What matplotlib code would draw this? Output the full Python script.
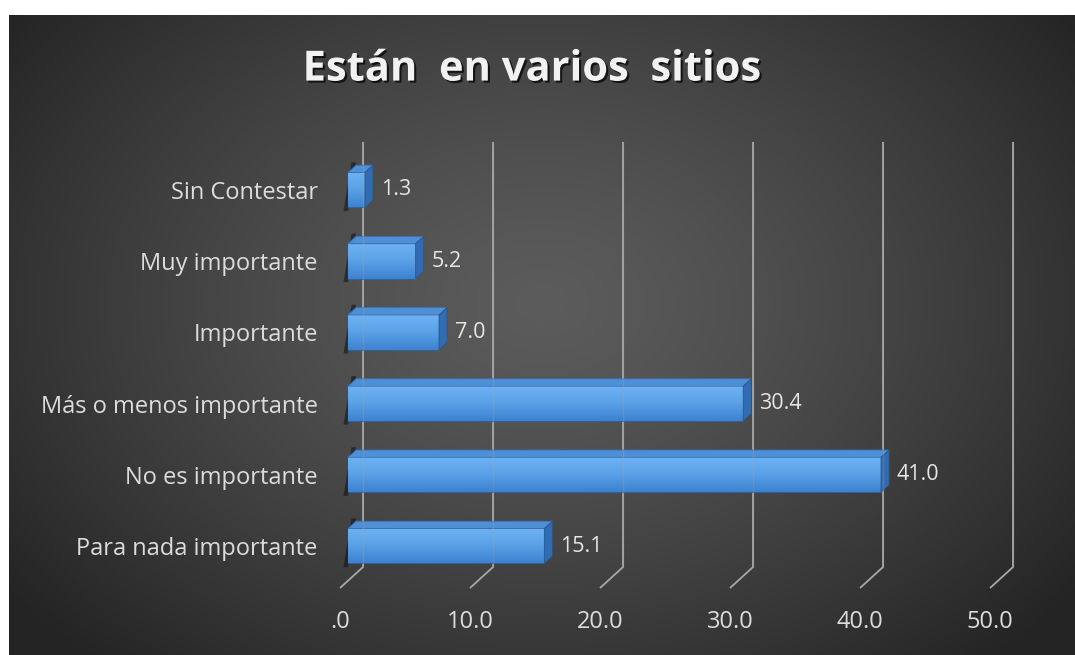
import numpy as np
import matplotlib
matplotlib.use("Agg")
import matplotlib.pyplot as plt
from matplotlib.patches import Polygon
import matplotlib.patheffects as pe

categories = ["Para nada importante", "No es importante", "Más o menos importante",
              "Importante", "Muy importante", "Sin Contestar"]
values = [15.1, 41.0, 30.4, 7.0, 5.2, 1.3]
x_ticks = [0, 10, 20, 30, 40, 50]
x_tick_labels = [".0", "10.0", "20.0", "30.0", "40.0", "50.0"]
title = "Están  en varios  sitios"

W, H = 1075, 655
fig = plt.figure(figsize=(W / 100, H / 100), dpi=100, facecolor="white")

# dark panel with a soft radial glow
bg = fig.add_axes([9 / W, 0, 1 - 9 / W, 640 / H])
bg.axis("off")
gx, gy = np.meshgrid(np.linspace(0, 1, 400), np.linspace(0, 1, 250))
r = np.sqrt(((gx - 0.5) / 0.62) ** 2 + ((gy - 0.45) / 0.75) ** 2)
r = np.clip(r, 0, 1) ** 1.3
c_in, c_out = np.array([0.36, 0.36, 0.36]), np.array([0.145, 0.145, 0.145])
img = c_in[None, None, :] * (1 - r[..., None]) + c_out[None, None, :] * r[..., None]
bg.imshow(img, extent=[0, 1, 0, 1], aspect="auto", origin="upper")
bg.set_xlim(0, 1)
bg.set_ylim(0, 1)

# plot area: front plane x=0 at 340px, x=50 at 990px; 71.2px per category
px_per_unit = 13.0
px_per_cat = 71.2
ax = fig.add_axes([340 / W, 55 / H, 650 / W, 460 / H])
ax.set_facecolor("none")
ax.set_xlim(0, 50)
ax.set_ylim(-0.758, 5.702)
for s in ax.spines.values():
    s.set_visible(False)

DX = 23 / px_per_unit   # floor depth, x direction
DY = 21 / px_per_cat    # floor depth, y direction
floor_front = -0.59
top = 5.674
grid_col = "#a8a8a8"
for v in x_ticks:
    ax.plot([v, v + DX, v + DX], [floor_front, floor_front + DY, top],
            color=grid_col, lw=1.3, solid_capstyle="butt", zorder=1, clip_on=False)

# 3-D style bars
t_front, t_back = 0.35, 0.70
x0 = t_front * DX
ddx = (t_back - t_front) * DX
ddy = (t_back - t_front) * DY
h = 0.49
ypos = np.arange(len(categories))

bars = ax.barh(ypos, values, height=h, left=x0, color="#4a90dc",
               edgecolor="#2a5f9c", linewidth=0.6, zorder=3)
grad = np.linspace(0, 1, 64)[:, None]
cmap = matplotlib.colors.LinearSegmentedColormap.from_list(
    "barface", ["#6db2f2", "#5aa0e6", "#3d82d0"])
for bar, y, v in zip(bars, ypos, values):
    im = ax.imshow(grad, cmap=cmap, aspect="auto", zorder=3.1,
                   extent=[x0, x0 + v, y - h / 2, y + h / 2], origin="upper")
    im.set_clip_path(bar)
    # left shadow
    ax.add_patch(Polygon([(x0 - 0.35, y - h / 2 - 0.05), (x0, y - h / 2 - 0.05),
                          (x0 + ddx, y + h / 2 + ddy + 0.04), (x0 - 0.35 + ddx, y + h / 2 + ddy + 0.04)],
                         closed=True, facecolor="#101010", alpha=0.55, lw=0, zorder=2.5))
    # top face
    ax.add_patch(Polygon([(x0, y + h / 2), (x0 + v, y + h / 2),
                          (x0 + v + ddx, y + h / 2 + ddy), (x0 + ddx, y + h / 2 + ddy)],
                         closed=True, facecolor="#4f8fd6", edgecolor="#3a73b8", lw=0.6, zorder=3.2))
    # end face
    ax.add_patch(Polygon([(x0 + v, y - h / 2), (x0 + v + ddx, y - h / 2 + ddy),
                          (x0 + v + ddx, y + h / 2 + ddy), (x0 + v, y + h / 2)],
                         closed=True, facecolor="#2f6cb3", edgecolor="#25578f", lw=0.6, zorder=3.2))
    ax.text(x0 + v + ddx + 0.6, y, f"{v:.1f}", ha="left", va="center",
            fontsize=15.5, color="#e6e6e6", family="Open Sans", zorder=4)

# gridlines faintly visible through the bars
for v in x_ticks:
    ax.plot([v + DX, v + DX], [floor_front + DY, top], color=grid_col,
            lw=1.0, alpha=0.25, zorder=3.5, clip_on=False)

ax.set_yticks(ypos)
ax.set_yticklabels(categories, fontsize=17, color="#dcdcdc", family="Open Sans")
ax.set_xticks(x_ticks)
ax.set_xticklabels(x_tick_labels, fontsize=17, color="#dcdcdc", family="Open Sans")
ax.tick_params(axis="y", length=0, pad=16)
ax.tick_params(axis="x", length=0, pad=7)

fig.text(0.495, 0.893, title, ha="center", va="center", fontsize=30,
         fontweight="bold", color="#f2f2f2", family="Open Sans",
         path_effects=[pe.withSimplePatchShadow(offset=(1.5, -1.5), shadow_rgbFace="black", alpha=0.7)])

fig.savefig("out.png", dpi=100, facecolor=fig.get_facecolor())
